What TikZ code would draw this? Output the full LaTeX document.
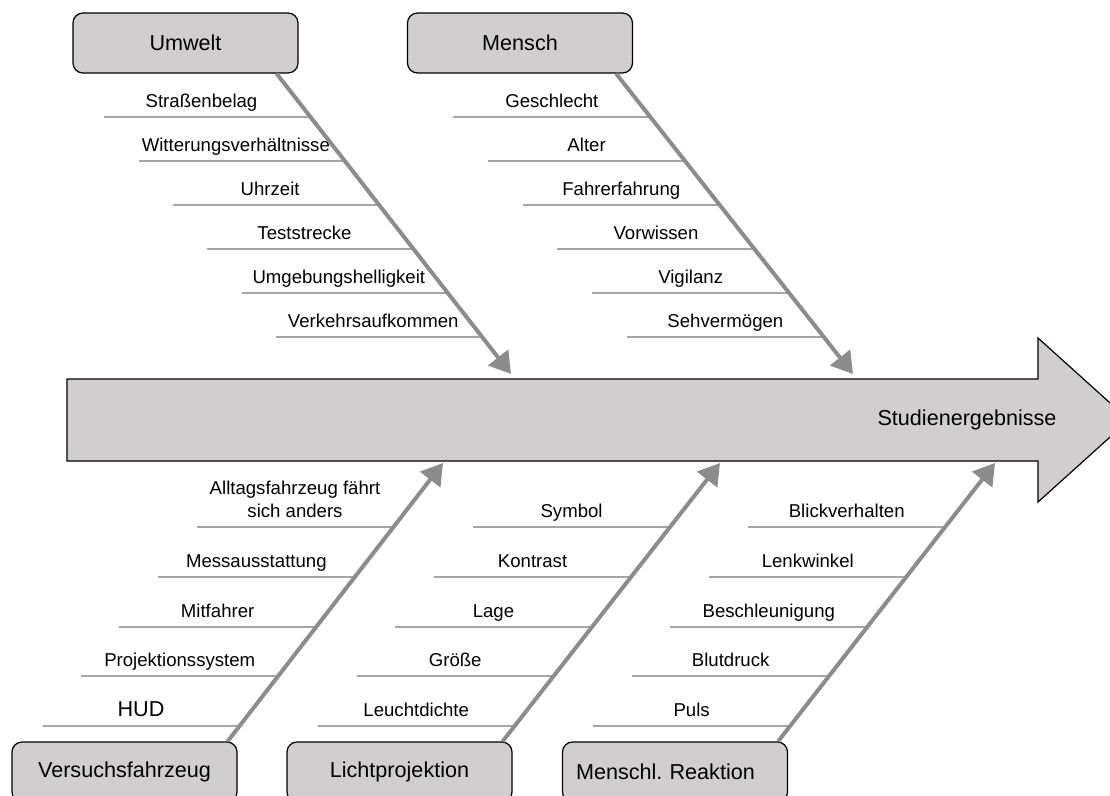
\documentclass[tikz,border=0pt]{standalone}
\usepackage{fontspec}
\setmainfont{Liberation Sans}
\usetikzlibrary{arrows.meta}

\definecolor{boxgray}{RGB}{208,206,206}
\definecolor{bonegray}{RGB}{140,140,140}
\definecolor{twiggray}{RGB}{165,165,165}

\begin{document}
\begin{tikzpicture}[
  x=1pt, y=-1pt,
  cause/.style={rectangle, rounded corners=10pt, draw, line width=1.2pt, fill=boxgray,
    minimum width=225pt, minimum height=60pt, font=\fontsize{21.6}{26}\selectfont},
  bone/.style={line width=4pt, draw=bonegray, -{Triangle[length=21pt, width=25pt]}},
  twig/.style={line width=1.2pt, draw=twiggray},
  factor/.style={anchor=south, text depth=0pt, inner ysep=8.5pt, align=center,
    font=\fontsize{18.6}{23}\selectfont}
]
  \useasboundingbox (0,0) rectangle (1110,795);

  % main arrow
  \draw[line width=1.2pt, fill=boxgray] (67,379) -- (1038,379) -- (1038,338) -- (1129,420)
    -- (1038,502) -- (1038,461) -- (67,461) -- cycle;
  \node (res) at (967,420) [font=\fontsize{21.6}{26}\selectfont] {Studienergebnisse};

  % causes
  \node[cause] (umw) at (185.5,43) {Umwelt};
  \node[cause] (men) at (520,43) {Mensch};
  \node[cause] (vfz) at (124.5,772) {Versuchsfahrzeug};
  \node[cause] (lpr) at (399.5,772) {Lichtprojektion};
  \node[cause, text width=198pt, inner xsep=13.5pt, align=left] (mre) at (675,772) {Menschl.\ Reaktion};

  \coordinate (umwS) at ([xshift=-22pt]umw.south east);
  \coordinate (menS) at ([xshift=-17pt]men.south east);
  \coordinate (vfzS) at ([xshift=-10pt]vfz.north east);
  \coordinate (lprS) at ([xshift=-10pt]lpr.north east);
  \coordinate (mreS) at ([xshift=-10pt]mre.north east);
  \coordinate (umwT) at (511,374);
  \coordinate (menT) at (853,374);
  \coordinate (vfzT) at (443,463);
  \coordinate (lprT) at (720,463);
  \coordinate (mreT) at (995,463);

  % sub-causes
  \foreach \y/\txt in {117/Straßenbelag, 161/Witterungsverhältnisse, 205/Uhrzeit,
      249/Teststrecke, 293/Umgebungshelligkeit, 337/Verkehrsaufkommen} {
    \coordinate (e) at (intersection of umwS--umwT and 0,\y--1110,\y);
    \draw[twig] ([xshift=-206pt]e) -- node[factor, xshift=-6pt] {\txt} (e);
  }
  \foreach \y/\txt in {117/Geschlecht, 161/Alter, 205/Fahrerfahrung,
      249/Vorwissen, 293/Vigilanz, 337/Sehvermögen} {
    \coordinate (e) at (intersection of menS--menT and 0,\y--1110,\y);
    \draw[twig] ([xshift=-197pt]e) -- node[factor] {\txt} (e);
  }
  \foreach \y/\txt in {527/{Alltagsfahrzeug fährt\\sich anders}, 577/Messausstattung,
      627/Mitfahrer, 676/Projektionssystem, 726/{\fontsize{21.6}{26}\selectfont HUD}} {
    \coordinate (e) at (intersection of vfzS--vfzT and 0,\y--1110,\y);
    \draw[twig] ([xshift=-197pt]e) -- node[factor] {\txt} (e);
  }
  \foreach \y/\txt in {527/Symbol, 577/Kontrast, 627/Lage, 676/Größe, 726/Leuchtdichte} {
    \coordinate (e) at (intersection of lprS--lprT and 0,\y--1110,\y);
    \draw[twig] ([xshift=-197pt]e) -- node[factor] {\txt} (e);
  }
  \foreach \y/\txt in {527/Blickverhalten, 577/Lenkwinkel, 627/Beschleunigung,
      676/Blutdruck, 726/Puls} {
    \coordinate (e) at (intersection of mreS--mreT and 0,\y--1110,\y);
    \draw[twig] ([xshift=-197pt]e) -- node[factor] {\txt} (e);
  }

  % bones
  \foreach \c in {umw, men, vfz, lpr, mre}
    \draw[bone] (\c S) -- (\c T);
\end{tikzpicture}
\end{document}
